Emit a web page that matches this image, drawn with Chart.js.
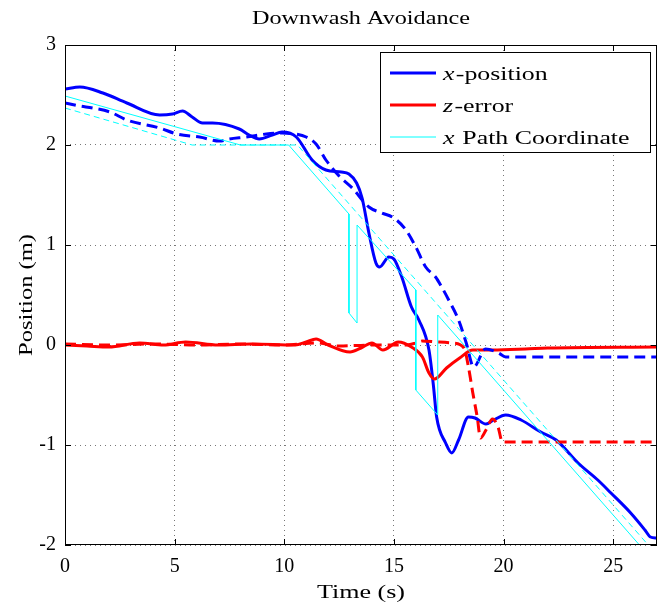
<!DOCTYPE html>
<html>
<head>
<meta charset="utf-8">
<script src="https://cdn.jsdelivr.net/npm/chart.js@4"></script>
<style>
  html, body { margin: 0; padding: 0; background: #fff; }
  #wrap { width: 668px; height: 609px; }
</style>
</head>
<body>
<div id="wrap"><canvas id="c" width="668" height="609"></canvas></div>
<script>
// ---- tick labels ----
const xTicks = [0, 5, 10, 15, 20, 25];
const yTicks = [-2, -1, 0, 1, 2, 3];

// ---- x-position (solid blue) ----
const tXPos = [0, 0.68, 1.73, 2.82, 4.32, 4.9, 5.36, 5.8, 6.27, 6.73, 7.95, 8.4, 8.86, 9.45, 9.9, 10.55, 11.27, 11.9, 12.6, 12.95, 13.3, 13.55, 13.86, 14.18, 14.35, 14.77, 15.0, 15.36, 15.8, 16.14, 16.6, 16.8, 16.95, 17.36, 17.64, 17.95, 18.4, 18.7, 19.2, 19.55, 20.1, 20.8, 21.7, 22.4, 23.4, 24.3, 24.9, 25.8, 26.45, 26.7, 27];
const xPos  = [2.56, 2.58, 2.52, 2.42, 2.30, 2.31, 2.34, 2.28, 2.22, 2.22, 2.16, 2.10, 2.06, 2.10, 2.13, 2.08, 1.85, 1.75, 1.73, 1.71, 1.62, 1.47, 1.12, 0.82, 0.78, 0.88, 0.86, 0.68, 0.38, 0.25, -0.05, -0.40, -0.72, -0.98, -1.08, -0.95, -0.72, -0.73, -0.79, -0.75, -0.70, -0.75, -0.87, -0.95, -1.18, -1.35, -1.48, -1.68, -1.85, -1.92, -1.93];

// ---- x-position, second run (dashed blue) ----
const tXPos2 = [0, 0.68, 1.27, 2.05, 2.82, 4.32, 5.1, 6.14, 7.05, 7.5, 8.27, 9.18, 9.9, 10.5, 11.0, 11.45, 11.9, 12.5, 13.1, 13.86, 14.45, 15.0, 15.55, 16.0, 16.45, 16.9, 17.18, 17.5, 17.95, 18.3, 18.64, 19.18, 19.77, 20.1, 27];
const xPos2  = [2.42, 2.39, 2.37, 2.33, 2.25, 2.17, 2.11, 2.08, 2.04, 2.06, 2.08, 2.11, 2.12, 2.11, 2.08, 2.01, 1.85, 1.69, 1.57, 1.38, 1.32, 1.27, 1.15, 0.98, 0.78, 0.68, 0.58, 0.45, 0.25, 0.02, -0.22, -0.04, -0.08, -0.12, -0.12];

// ---- z-error (solid red) ----
const tZErr = [0, 1, 2, 3.4, 4.5, 5.5, 7, 8.5, 10.5, 11.0, 11.45, 12.0, 13.0, 13.5, 14.0, 14.5, 15.2, 15.8, 16.3, 16.6, 16.85, 17.4, 18.0, 18.6, 19.5, 21, 22, 27];
const zErr  = [0.0, -0.01, -0.02, 0.02, 0.0, 0.03, 0.0, 0.01, 0.0, 0.03, 0.06, 0.0, -0.07, -0.03, 0.02, -0.05, 0.03, -0.02, -0.12, -0.28, -0.34, -0.23, -0.13, -0.05, -0.05, -0.04, -0.03, -0.02];

// ---- z-error, second run (dashed red) ----
const tZErr2 = [0, 2, 4, 6, 8, 10, 11.5, 12.5, 14, 15.5, 16.0, 16.3, 17, 17.7, 18.2, 18.4, 18.6, 18.8, 18.95, 19.2, 19.5, 19.75, 19.95, 27];
const zErr2  = [0.01, 0.0, 0.01, 0.0, 0.01, 0.0, 0.02, -0.01, 0.0, 0.0, 0.02, 0.04, 0.03, 0.02, -0.03, -0.22, -0.48, -0.72, -0.93, -0.85, -0.74, -0.82, -0.97, -0.97];

// ---- x path coordinate (solid cyan) ----
const tPath = [0, 8.0, 10.2, 12.95, 12.95, 13.32, 13.32, 16.0, 16.0, 17.0, 17.0, 26.2];
const xPath = [2.49, 2.0, 2.0, 1.31, 0.32, 0.22, 1.2, 0.55, -0.45, -0.70, 0.30, -2.0];

// ---- x path coordinate, second run (dashed cyan) ----
const tPath2 = [0, 5.8, 10.6, 26.6];
const xPath2 = [2.37, 2.0, 2.0, -2.0];

const zip = (ts, ys) => ts.map((t, i) => ({ x: t, y: ys[i] }));

const BLUE = '#0000ff', RED = '#ff0000', CYAN = '#00ffff';
const FONT = "'Liberation Serif', 'Times New Roman', serif";

const legendItems = [
  { color: BLUE, width: 3, italic: 'x', rest: '-position' },
  { color: RED, width: 3, italic: 'z', rest: '-error' },
  { color: CYAN, width: 1, italic: 'x', rest: ' Path Coordinate' }
];

// draw text horizontally stretched so that it spans a target width
function stretchText(ctx, text, cx, cy, target, font) {
  ctx.font = font;
  const w = ctx.measureText(text).width;
  const sx = target / w;
  ctx.save();
  ctx.translate(cx, cy);
  ctx.scale(sx, 1);
  ctx.textAlign = 'center';
  ctx.textBaseline = 'middle';
  ctx.fillText(text, 0, 0);
  ctx.restore();
}

const decor = {
  id: 'decor',
  afterDatasetsDraw(chart) {
    const ctx = chart.ctx, a = chart.chartArea;
    const xs = chart.scales.x, ys = chart.scales.y;
    ctx.save();
    // box
    ctx.strokeStyle = '#000';
    ctx.lineWidth = 1;
    ctx.strokeRect(Math.round(a.left) + 0.5, Math.round(a.top) + 0.5, Math.round(a.right - a.left) - 1, Math.round(a.bottom - a.top) - 1);
    // inward ticks
    ctx.beginPath();
    xTicks.forEach(v => {
      const px = Math.round(xs.getPixelForValue(v)) + 0.5;
      ctx.moveTo(px, a.bottom); ctx.lineTo(px, a.bottom - 6);
      ctx.moveTo(px, a.top); ctx.lineTo(px, a.top + 6);
    });
    yTicks.forEach(v => {
      const py = Math.round(ys.getPixelForValue(v)) + 0.5;
      ctx.moveTo(a.left, py); ctx.lineTo(a.left + 6, py);
      ctx.moveTo(a.right, py); ctx.lineTo(a.right - 6, py);
    });
    ctx.stroke();

    // titles
    ctx.fillStyle = '#000';
    const cx = (a.left + a.right) / 2;
    stretchText(ctx, 'Downwash Avoidance', cx, 19, 218, '19px ' + FONT);
    stretchText(ctx, 'Time (s)', cx, 593, 88, '19px ' + FONT);
    ctx.save();
    ctx.translate(27, (a.top + a.bottom) / 2);
    ctx.rotate(-Math.PI / 2);
    stretchText(ctx, 'Position (m)', 0, 0, 122, '19px ' + FONT);
    ctx.restore();

    // legend
    const L = 380, T = 52, W = 270, H = 100;
    ctx.fillStyle = '#fff';
    ctx.fillRect(L, T, W, H);
    ctx.strokeStyle = '#000';
    ctx.lineWidth = 1;
    ctx.strokeRect(L + 0.5, T + 0.5, W, H);
    const SX = 1.36;
    legendItems.forEach((it, i) => {
      const yy = T + 21 + i * 32;
      ctx.beginPath();
      ctx.strokeStyle = it.color;
      ctx.lineWidth = it.width;
      ctx.moveTo(390, yy); ctx.lineTo(436, yy);
      ctx.stroke();
      ctx.save();
      ctx.translate(443, yy + 2);
      ctx.scale(SX, 1);
      ctx.fillStyle = '#000';
      ctx.textAlign = 'left';
      ctx.textBaseline = 'middle';
      ctx.font = 'italic 19px ' + FONT;
      ctx.fillText(it.italic, 0, 0);
      const w = ctx.measureText(it.italic).width;
      ctx.font = '19px ' + FONT;
      ctx.fillText(it.rest, w + 1, 0);
      ctx.restore();
    });
    ctx.restore();
  }
};

const mk = (label, ts, ys, color, width, dash, tension) => ({
  label, data: zip(ts, ys), borderColor: color, backgroundColor: color,
  borderWidth: width, borderDash: dash, pointRadius: 0, showLine: true,
  fill: false, tension: tension, cubicInterpolationMode: tension ? 'monotone' : 'default'
});

new Chart(document.getElementById('c'), {
  type: 'scatter',
  data: {
    datasets: [
      mk('x Path Coordinate 2', tPath2, xPath2, CYAN, 1, [6, 4], 0),
      mk('x Path Coordinate', tPath, xPath, CYAN, 1, [], 0),
      mk('z-error 2', tZErr2, zErr2, RED, 3, [11, 6], 0.4),
      mk('x-position 2', tXPos2, xPos2, BLUE, 3, [11, 6], 0.4),
      mk('z-error', tZErr, zErr, RED, 3, [], 0.4),
      mk('x-position', tXPos, xPos, BLUE, 3, [], 0.4)
    ]
  },
  options: {
    responsive: false,
    animation: false,
    devicePixelRatio: 1,
    layout: { padding: { top: 45, right: 11, left: 0, bottom: 0 } },
    plugins: { legend: { display: false }, title: { display: false }, tooltip: { enabled: false } },
    scales: {
      x: {
        type: 'linear', min: 0, max: 27,
        afterFit(s) { s.height = 64; },
        afterBuildTicks(s) { s.ticks = xTicks.map(v => ({ value: v })); },
        grid: { color: '#777', lineWidth: 1, drawTicks: false },
        border: { display: false, dash: [1, 4] },
        ticks: { padding: 10, color: '#000', font: { family: FONT, size: 20 } }
      },
      y: {
        type: 'linear', min: -2, max: 3,
        afterFit(s) { s.width = 65; },
        afterBuildTicks(s) { s.ticks = yTicks.map(v => ({ value: v })); },
        grid: { color: '#777', lineWidth: 1, drawTicks: false },
        border: { display: false, dash: [1, 4] },
        ticks: { padding: 9, color: '#000', font: { family: FONT, size: 20 } }
      }
    }
  },
  plugins: [decor]
});
</script>
</body>
</html>
